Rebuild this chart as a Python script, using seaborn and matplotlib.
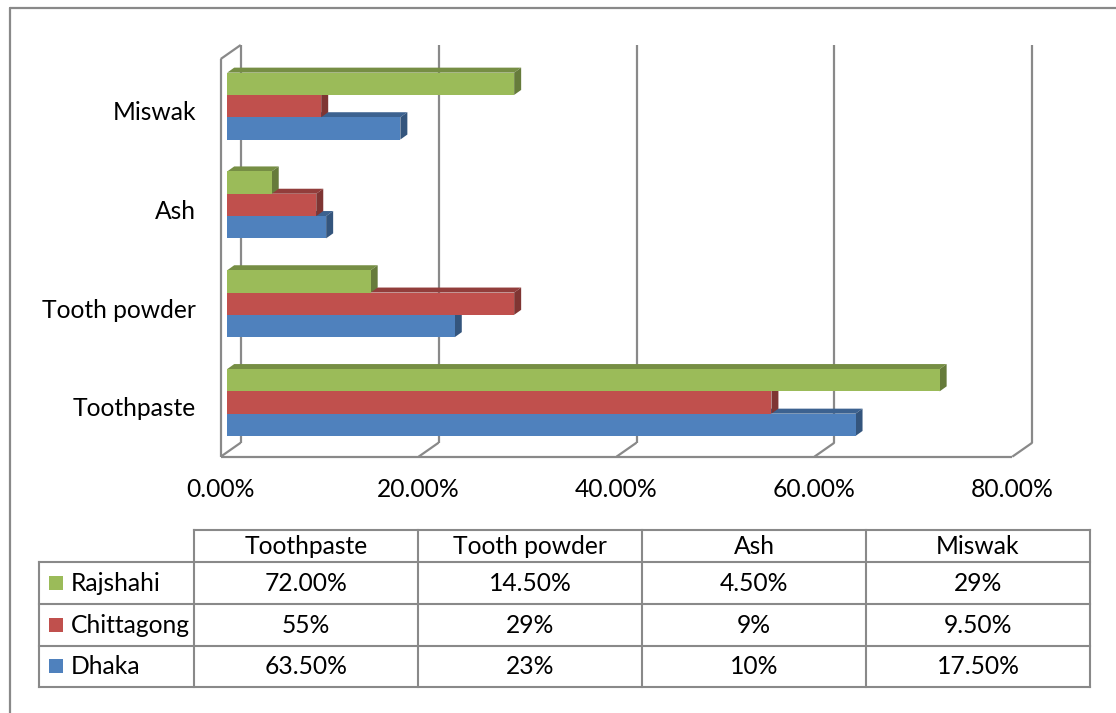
import matplotlib
matplotlib.use("Agg")
import numpy as np
import pandas as pd
import matplotlib.pyplot as plt
from matplotlib.patches import Polygon, Rectangle
from matplotlib.lines import Line2D
from matplotlib.transforms import IdentityTransform, ScaledTranslation
import seaborn as sns

# ---- data -------------------------------------------------------------
categories = ["Toothpaste", "Tooth powder", "Ash", "Miswak"]
cities = ["Rajshahi", "Chittagong", "Dhaka"]
rajshahi = ["72.00%", "14.50%", "4.50%", "29%"]
chittagong = ["55%", "29%", "9%", "9.50%"]
dhaka = ["63.50%", "23%", "10%", "17.50%"]
city_colors = ["#9BBB59", "#C0504D", "#4F81BD"]
x_ticks = [0, 20, 40, 60, 80]

series = dict(zip(cities, [rajshahi, chittagong, dhaka]))


def pct(s):
    return float(s.rstrip("%"))


rows = []
for city, labels in series.items():
    for cat, lab in zip(categories, labels):
        rows.append({"category": cat, "city": city, "value": pct(lab)})
df = pd.DataFrame(rows)

# ---- style --------------------------------------------------------------
sns.set_theme(style="white")
plt.rcParams["font.family"] = ["Lato", "DejaVu Sans"]
FS = 17.7
GRAY = "#898989"

W, H = 1116, 713
DPI = 100
fig = plt.figure(figsize=(W / DPI, H / DPI), dpi=DPI)
fig.patch.set_facecolor("white")

# page layer in pixel units (origin top-left) for the frame and data table
page = fig.add_axes([0, 0, 1, 1], zorder=0)
page.set_xlim(0, W)
page.set_ylim(H, 0)
page.axis("off")

# plot region = front edge of the floor / side wall
x_front0, x_front1 = 220.7, 1012.3
y_floor, y_top = 456.7, 59.0
ax = fig.add_axes([x_front0 / W, 1 - y_floor / H,
                   (x_front1 - x_front0) / W, (y_floor - y_top) / H], zorder=1)
ax.patch.set_alpha(0)

sns.barplot(data=df, y="category", x="value", hue="city",
            order=categories[::-1], hue_order=cities, palette=city_colors,
            orient="h", width=0.677, saturation=1, errorbar=None,
            legend=False, linewidth=0, ax=ax)

Y_BOT, Y_TOP = 3.503, -0.522
ax.set_xlim(0, 80)
ax.set_ylim(Y_BOT, Y_TOP)
ax.set_xlabel("")
ax.set_ylabel("")
for s in ax.spines.values():
    s.set_visible(False)
ax.grid(False)
ax.set_xticks(x_ticks)
ax.set_xticklabels([f"{v:.2f}%" for v in x_ticks])
ax.tick_params(axis="x", length=0, pad=15.5, labelsize=FS, colors="black")
ax.tick_params(axis="y", length=0, pad=17.8, labelsize=FS, colors="black")

# ---- pseudo-3D geometry (display pixels) -------------------------------
WALL_D = np.array([20.0, 14.0])   # depth of the chart box
BAR_F = np.array([6.5, 4.5])      # bar front face inset from the box front
BAR_D = np.array([7.0, 5.0])      # bar depth


def disp(x, y):
    return np.asarray(ax.transData.transform((x, y)), dtype=float)


def seg(p, q):
    ln = Line2D([p[0], q[0]], [p[1], q[1]], transform=IdentityTransform(),
                color=GRAY, lw=1.6, zorder=2, clip_on=False,
                solid_capstyle="butt")
    ax.add_line(ln)


# back wall gridlines with floor diagonals
for v in x_ticks:
    fb = disp(v, Y_BOT)
    bb = fb + WALL_D
    bt = disp(v, Y_TOP) + WALL_D
    seg(fb, bb)
    seg(bb, bt)
# left side wall and front floor edge
fb0, ft0 = disp(0, Y_BOT), disp(0, Y_TOP)
seg(fb0, ft0)
seg(ft0, ft0 + WALL_D)
seg(fb0, disp(80, Y_BOT))


def shade(c, f):
    rgb = np.array(matplotlib.colors.to_rgb(c))
    return tuple(rgb * f)


offset = ScaledTranslation(BAR_F[0] / DPI, BAR_F[1] / DPI, fig.dpi_scale_trans)
for p in list(ax.patches):
    x0, y0, w, h = p.get_x(), p.get_y(), p.get_width(), p.get_height()
    yc = y0 + h / 2
    z = 3 + (5 - yc) * 0.5          # lower bars first
    col = p.get_facecolor()
    p.set_transform(ax.transData + offset)
    p.set_zorder(z + 0.02)
    p.set_clip_on(False)
    tl = disp(x0, y0) + BAR_F       # front top-left
    br = disp(x0 + w, y0 + h) + BAR_F
    tr = np.array([br[0], tl[1]])
    top = Polygon([tl, tr, tr + BAR_D, tl + BAR_D], closed=True,
                  transform=IdentityTransform(), facecolor=shade(col, 0.76),
                  edgecolor="none", zorder=z, clip_on=False)
    side = Polygon([br, tr, tr + BAR_D, br + BAR_D], closed=True,
                   transform=IdentityTransform(), facecolor=shade(col, 0.66),
                   edgecolor="none", zorder=z + 0.01, clip_on=False)
    ax.add_patch(top)
    ax.add_patch(side)

# ---- outer frame --------------------------------------------------------
page.plot([10, 10], [8, H], color=GRAY, lw=1.6)
page.plot([10, W], [8, 8], color=GRAY, lw=1.6)

# ---- data table ----------------------------------------------------------
t_left, t_key, t_right = 39.3, 194.3, 1090.0
col_edges = np.linspace(t_key, t_right, len(categories) + 1)
row_edges = [530.0, 562.3, 604.3, 646.0, 686.7]
lk = dict(color=GRAY, lw=1.5, solid_capstyle="projecting")

page.plot([t_key, t_right], [row_edges[0]] * 2, **lk)
for yy in row_edges[1:]:
    page.plot([t_left, t_right], [yy, yy], **lk)
page.plot([t_left, t_left], [row_edges[1], row_edges[-1]], **lk)
for xx in col_edges:
    page.plot([xx, xx], [row_edges[0], row_edges[-1]], **lk)

col_mid = (col_edges[:-1] + col_edges[1:]) / 2
for cx, cat in zip(col_mid, categories):
    page.text(cx, (row_edges[0] + row_edges[1]) / 2, cat, ha="center",
              va="center", fontsize=FS, color="black")

for i, (city, color) in enumerate(zip(cities, city_colors)):
    ry = (row_edges[i + 1] + row_edges[i + 2]) / 2
    page.add_patch(Rectangle((49, ry - 7), 14, 14, facecolor=color,
                             edgecolor="none"))
    page.text(70.7, ry, city, ha="left", va="center", fontsize=FS,
              color="black")
    for cx, lab in zip(col_mid, series[city]):
        page.text(cx, ry, lab, ha="center", va="center", fontsize=FS,
                  color="black")

fig.savefig("out.png", dpi=DPI, facecolor="white")
